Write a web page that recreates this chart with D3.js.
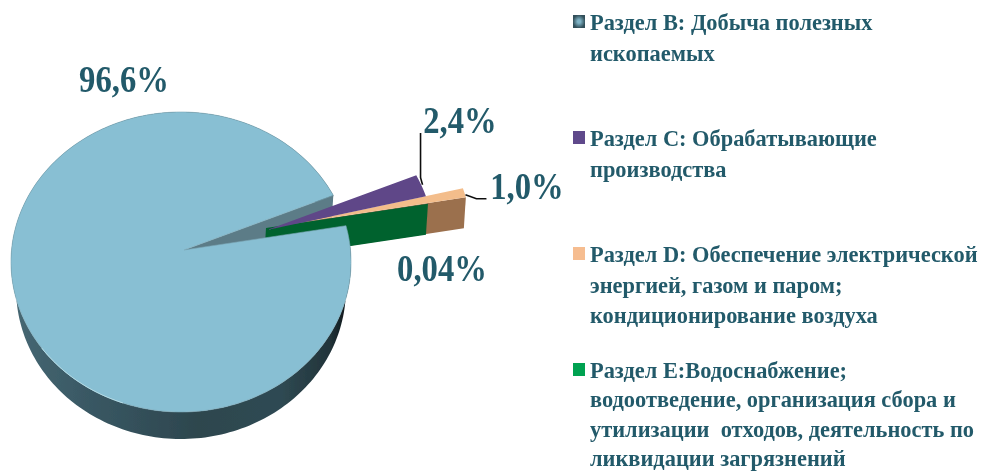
<!DOCTYPE html>
<html>

<head>
  <meta charset='utf-8'>
  <title></title>
  <script src="https://d3js.org/d3.v7.min.js"></script>
  <style>
    html, body {
      margin: 0;
      padding: 0;
      background: #fff;
    }

    svg {
      display: block;
    }

    text {
      font-family: 'Liberation Serif', serif;
      font-weight: bold;
      fill: #235a6a;
    }
  </style>
</head>

<body>
  <div id='chart'></div>
  <script>
    // values
    var categories = ['B', 'C', 'D', 'E'];
    var shares = [96.6, 2.4, 1.0, 0.04];
    var shareLabels = ['96,6%', '2,4%', '1,0%', '0,04%'];
    var legendLines = [
      ['Раздел B: Добыча полезных', 'ископаемых'],
      ['Раздел C: Обрабатывающие', 'производства'],
      ['Раздел D: Обеспечение электрической', 'энергией, газом и паром;', 'кондиционирование воздуха'],
      ['Раздел E:Водоснабжение;', 'водоотведение, организация сбора и', 'утилизации  отходов, деятельность по', 'ликвидации загрязнений']
    ];

    var width = 982,
      height = 471;

    // tilted pie geometry
    var centre = { x: 181, y: 262, rx: 170, ry: 150 };
    var apex = { x: 184, y: 250 };
    var depth = 27;
    var start = 76 * Math.PI / 180;

    var explode = {
      B: [0, 0],
      C: [83, -20],
      D: [120, -28],
      E: [82, -22]
    };
    var topColor = { B: '#88bfd3', C: '#5f4688', D: '#f3bd8b', E: '#00622f' };
    var legendColor = { C: '#5f4a8b', D: '#f6bd90', E: '#00a251' };
    var labelPos = { B: [124, 92], C: [460, 133], D: [527, 199], E: [442, 281] };
    var legendY = { B: 30, C: 146, D: 262, E: 378 };
    var legendStep = { B: 30.5, C: 30.5, D: 30.5, E: 29.3 };

    var svg = d3.select('#chart')
      .append('svg')
      .attr('width', width)
      .attr('height', height);

    var defs = svg.append('defs');

    defs.append('filter')
      .attr('id', 'soft')
      .attr('x', '-5%').attr('y', '-5%').attr('width', '110%').attr('height', '110%')
      .append('feGaussianBlur')
      .attr('stdDeviation', 0.45);

    var wallGrad = defs.append('linearGradient')
      .attr('id', 'wall')
      .attr('gradientUnits', 'userSpaceOnUse')
      .attr('x1', 16).attr('x2', 346).attr('y1', 0).attr('y2', 0);
    [[0, '#466772'], [0.2, '#3a5965'], [0.55, '#2d464e'], [0.8, '#2f4a53'], [0.95, '#22343a'], [1, '#10181b']].forEach(function(s) {
      wallGrad.append('stop').attr('offset', s[0]).attr('stop-color', s[1]);
    });

    var markerGrad = defs.append('radialGradient').attr('id', 'markerB');
    markerGrad.append('stop').attr('offset', '25%').attr('stop-color', '#7fb3c6');
    markerGrad.append('stop').attr('offset', '100%').attr('stop-color', '#33505a');

    var pie = d3.pie()
      .sort(null)
      .startAngle(start)
      .endAngle(start + 2 * Math.PI);

    var slices = pie(shares);
    slices.forEach(function(s, i) {
      s.key = categories[i];
    });
    var byKey = {};
    slices.forEach(function(s) {
      byKey[s.key] = s;
    });

    function rim(a, off) {
      return [
        centre.x + centre.rx * Math.sin(a) + off[0],
        centre.y - centre.ry * Math.cos(a) + off[1]
      ];
    }

    function arcPoints(a0, a1, off) {
      return d3.range(0, 1.0001, 1 / 240).map(function(t) {
        return rim(a0 + (a1 - a0) * t, off);
      });
    }

    var line = d3.line();

    function apexOf(off) {
      return [apex.x + off[0], apex.y + off[1]];
    }

    function shift(p, dy) {
      return [p[0], p[1] + dy];
    }

    function topFace(s) {
      var off = explode[s.key];
      return line([apexOf(off)].concat(arcPoints(s.startAngle, s.endAngle, off))) + 'Z';
    }

    // radial wall hanging under one edge of a slice
    function radialWall(s, a) {
      var off = explode[s.key];
      var p0 = apexOf(off),
        p1 = rim(a, off);
      return line([p0, p1, [p1[0] - 2, p1[1] + depth + 4], [p0[0] - 2, p0[1] + depth + 4]]) + 'Z';
    }

    var g = svg.append('g').attr('filter', 'url(#soft)');

    // outer band of the big slice, its lower edge a bit narrower than the top
    var band = arcPoints(byKey.B.startAngle, byKey.B.endAngle, [0, 0]);
    var lowerEdge = band.slice().reverse().map(function(p) {
      return [centre.x + (p[0] - centre.x) * 0.97, p[1] + depth];
    });
    g.append('path')
      .attr('d', line(band.concat(lowerEdge)) + 'Z')
      .attr('fill', 'url(#wall)');

    // wall inside the notch
    g.append('path')
      .attr('d', radialWall(byKey.B, byKey.B.endAngle))
      .attr('fill', '#5c7c87');

    // exploded slices, back to front
    g.append('path').attr('d', radialWall(byKey.D, byKey.D.endAngle)).attr('fill', '#9b6f4d');
    g.append('path').attr('d', topFace(byKey.D)).attr('fill', topColor.D);
    g.append('path').attr('d', radialWall(byKey.E, byKey.E.endAngle)).attr('fill', topColor.E);
    g.append('path').attr('d', topFace(byKey.C)).attr('fill', topColor.C);

    // big slice top goes last so it hides the slices' inner ends
    g.append('path')
      .attr('d', topFace(byKey.B))
      .attr('fill', topColor.B)
      .attr('stroke', '#7ba6b5')
      .attr('stroke-width', 0.6);

    // light edge on the lower left of the rim
    g.append('path')
      .attr('d', line(arcPoints(200 * Math.PI / 180, 235 * Math.PI / 180, [0, 0])))
      .attr('fill', 'none')
      .attr('stroke', '#c4ecf5')
      .attr('stroke-width', 1);

    // leader lines
    var leader = d3.line().curve(d3.curveLinear);
    var leaderC = rim((byKey.C.startAngle + byKey.C.endAngle) / 2, explode.C);
    var leaderD = rim((byKey.D.startAngle + byKey.D.endAngle) / 2, explode.D);

    g.append('path')
      .attr('d', leader([[leaderC[0] + 1, leaderC[1] - 1], [leaderC[0] - 1, leaderC[1] - 8], [leaderC[0] - 1, 133]]))
      .attr('fill', 'none')
      .attr('stroke', '#111')
      .attr('stroke-width', 1.6);

    g.append('path')
      .attr('d', leader([[leaderD[0] + 1, leaderD[1] + 2], [leaderD[0] + 12, leaderD[1] + 6], [leaderD[0] + 22, leaderD[1] + 6]]))
      .attr('fill', 'none')
      .attr('stroke', '#111')
      .attr('stroke-width', 1.6);

    // value labels, the type in the picture is tall and narrow
    g.selectAll('text.value')
      .data(categories)
      .enter()
      .append('text')
      .attr('class', 'value')
      .attr('transform', function(d) {
        return 'translate(' + labelPos[d][0] + ',' + labelPos[d][1] + ') scale(0.86,1)';
      })
      .attr('text-anchor', 'middle')
      .style('font-size', '38px')
      .text(function(d, i) {
        return shareLabels[i];
      });

    // legend
    var legend = g.selectAll('g.legend')
      .data(categories)
      .enter()
      .append('g')
      .attr('class', 'legend')
      .attr('transform', function(d) {
        return 'translate(573,' + legendY[d] + ')';
      });

    legend.append('rect')
      .attr('y', -15)
      .attr('width', 12)
      .attr('height', 13)
      .attr('fill', function(d) {
        return d === 'B' ? 'url(#markerB)' : legendColor[d];
      });

    legend.each(function(d, i) {
      d3.select(this).selectAll('text')
        .data(legendLines[i])
        .enter()
        .append('text')
        .attr('x', 17)
        .attr('y', function(l, j) {
          return j * legendStep[d];
        })
        .style('font-size', '22.4px')
        .style('white-space', 'pre')
        .text(function(l) {
          return l;
        });
    });
  </script>
</body>

</html>
